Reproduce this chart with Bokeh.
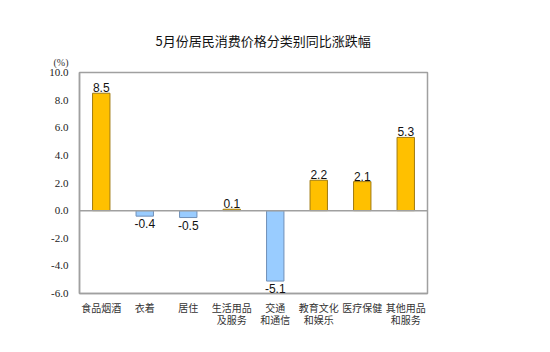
from bokeh.plotting import figure
from bokeh.models import ColumnDataSource, Range1d, FixedTicker, Span, LabelSet, Title
from bokeh.core.properties import value
from bokeh.embed import file_html
from bokeh.resources import INLINE

categories = ["食品烟酒", "衣着", "居住", "生活用品\n及服务", "交通\n和通信", "教育文化\n和娱乐", "医疗保健", "其他用品\n和服务"]
values = [8.5, -0.4, -0.5, 0.1, -5.1, 2.2, 2.1, 5.3]
y_ticks = [-6.0, -4.0, -2.0, 0.0, 2.0, 4.0, 6.0, 8.0, 10.0]
title_text = "5月份居民消费价格分类别同比涨跌幅"
unit_text = "(%)"

xs = [i + 0.5 for i in range(len(values))]
fill = ["#FFC000" if v >= 0 else "#99CCFF" for v in values]
outl = ["#A07A10" if v >= 0 else "#7090B8" for v in values]
top = [max(v, 0) for v in values]
bottom = [min(v, 0) for v in values]
lab_text = ["%.1f" % v for v in values]

src = ColumnDataSource(dict(x=xs, top=top, bottom=bottom, fill=fill, outl=outl))

p = figure(width=550, height=352, output_backend="svg", toolbar_location=None,
           x_range=Range1d(0, 8), y_range=Range1d(-6, 10),
           min_border_left=79, min_border_right=123, min_border_top=72, min_border_bottom=59)
p.background_fill_color = "white"
p.border_fill_color = "white"
p.outline_line_color = "#A0A0A0"
p.outline_line_width = 1.5
p.xgrid.visible = False
p.ygrid.visible = False

p.vbar(x="x", top="top", bottom="bottom", width=0.4, fill_color="fill", line_color="outl",
       line_width=1, source=src)

p.add_layout(Span(location=0, dimension="width", line_color="#A0A0A0", line_width=1.5))

pos = [i for i, v in enumerate(values) if v >= 0]
neg = [i for i, v in enumerate(values) if v < 0]
src_pos = ColumnDataSource(dict(x=[xs[i] for i in pos], y=[values[i] for i in pos], t=[lab_text[i] for i in pos]))
src_neg = ColumnDataSource(dict(x=[xs[i] for i in neg], y=[values[i] for i in neg], t=[lab_text[i] for i in neg]))
p.add_layout(LabelSet(x="x", y="y", text="t", source=src_pos, text_align="center", text_baseline="bottom",
                      y_offset=1, text_font=value("Liberation Sans"), text_font_size=value("12px"),
                      text_color="#111111"))
p.add_layout(LabelSet(x="x", y="y", text="t", source=src_neg, text_align="center", text_baseline="top",
                      y_offset=-3, text_font=value("Liberation Sans"), text_font_size=value("12px"),
                      text_color="#111111"))

p.yaxis.ticker = FixedTicker(ticks=y_ticks)
p.yaxis.major_label_overrides = {t: "%.1f" % t for t in y_ticks}
p.yaxis.major_tick_line_color = None
p.yaxis.minor_tick_line_color = None
p.yaxis.axis_line_color = "#A0A0A0"
p.yaxis.axis_line_width = 1.5
p.yaxis.major_label_text_font = "Liberation Serif"
p.yaxis.major_label_text_font_size = "11px"
p.yaxis.major_label_text_color = "#222222"
p.yaxis.major_label_standoff = 5

p.xaxis.ticker = FixedTicker(ticks=xs)
p.xaxis.major_label_overrides = {x: c for x, c in zip(xs, categories)}
p.xaxis.major_tick_line_color = None
p.xaxis.minor_tick_line_color = None
p.xaxis.axis_line_color = "#A0A0A0"
p.xaxis.axis_line_width = 1.5
p.xaxis.major_label_text_font = "Noto Sans CJK SC"
p.xaxis.major_label_text_font_size = "10px"
p.xaxis.major_label_text_color = "#333333"
p.xaxis.major_label_text_line_height = 0.8
p.xaxis.major_label_standoff = 0

p.add_layout(Title(text=unit_text, align="left", offset=-26, standoff=10,
                   text_font="Liberation Serif", text_font_size="10px",
                   text_color="#333333", text_font_style="normal"), "above")
p.add_layout(Title(text=title_text, align="left", offset=76, standoff=0,
                   text_font="Noto Sans CJK SC", text_font_size="13px",
                   text_color="#111111", text_font_style="normal"), "above")

open("out.html", "w").write(file_html(p, INLINE))
